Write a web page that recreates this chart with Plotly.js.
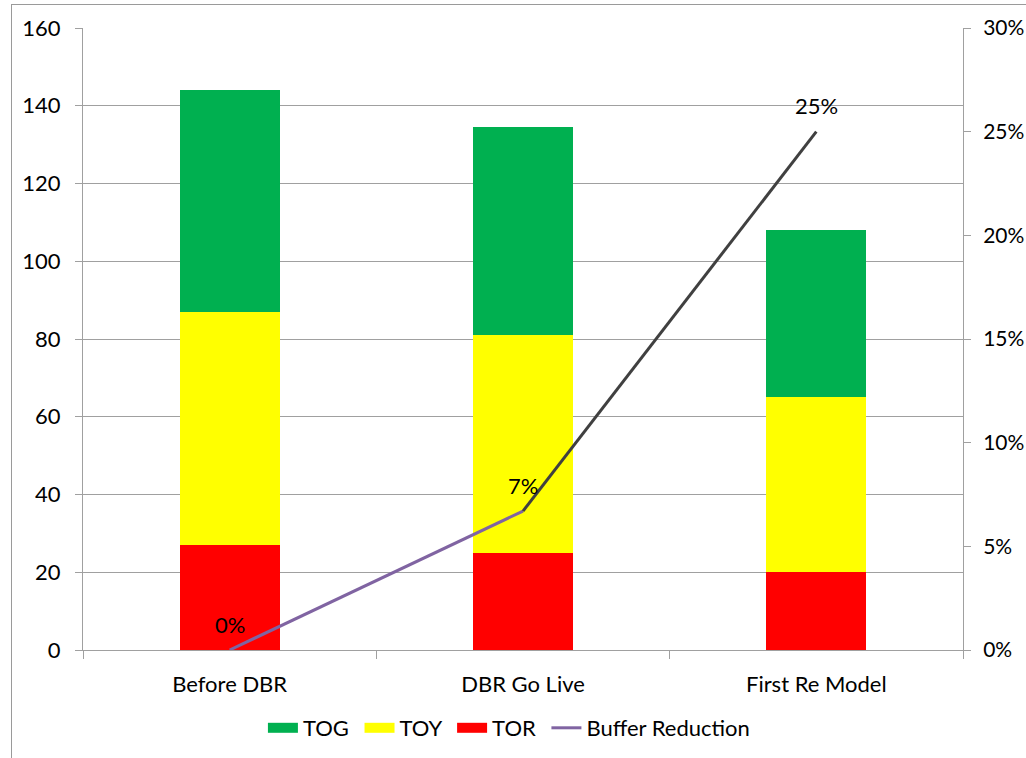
<!DOCTYPE html>
<html>
<head>
<meta charset="utf-8">
<script src="https://cdn.plot.ly/plotly-3.0.1.min.js"></script>
<style>
  html, body { margin: 0; padding: 0; background: #fff; overflow: hidden; }
  #frame { position: absolute; left: 11px; top: 4px; width: 1100px; height: 900px; border: 1px solid #9a9a9a; }
  #chart { position: absolute; left: 0; top: 0; width: 1026px; height: 758px; }
</style>
</head>
<body>
<div id="frame"></div>
<div id="chart"></div>
<script>
const categories = ["Before DBR", "DBR Go Live", "First Re Model"];
const tor = [27, 25, 20];
const toy = [60, 56, 45];
const tog = [57, 53.5, 43];
const bufferReduction = [0, 0.067, 0.25];

const font = "Lato, 'Open Sans', sans-serif";
const colors = { TOG: "#00b050", TOY: "#ffff00", TOR: "#ff0000" };

const traces = [
  { type: "bar", name: "TOR", x: categories, y: tor, marker: { color: colors.TOR }, showlegend: false },
  { type: "bar", name: "TOY", x: categories, y: toy, marker: { color: colors.TOY }, showlegend: false },
  { type: "bar", name: "TOG", x: categories, y: tog, marker: { color: colors.TOG }, showlegend: false },
  { type: "scatter", mode: "lines", name: "Buffer Reduction", x: categories.slice(0, 2), y: bufferReduction.slice(0, 2),
    yaxis: "y2", line: { color: "#8064a2", width: 3 }, showlegend: false },
  { type: "scatter", mode: "lines", name: "Buffer Reduction", x: categories.slice(1), y: bufferReduction.slice(1),
    yaxis: "y2", line: { color: "#404040", width: 3 }, showlegend: false },
  // legend entries (wide rectangular swatches like the original)
  { type: "scatter", mode: "lines", name: "TOG\u00a0", x: [null], y: [null], line: { color: colors.TOG, width: 13 }, legendrank: 1 },
  { type: "scatter", mode: "lines", name: "TOY\u00a0", x: [null], y: [null], line: { color: colors.TOY, width: 13 }, legendrank: 2 },
  { type: "scatter", mode: "lines", name: "TOR\u00a0", x: [null], y: [null], line: { color: colors.TOR, width: 13 }, legendrank: 3 },
  { type: "scatter", mode: "lines", name: "Buffer Reduction", x: [null], y: [null], line: { color: "#8064a2", width: 3 }, legendrank: 4 }
];

const annotations = categories.map((c, i) => ({
  x: c, y: bufferReduction[i], xref: "x", yref: "y2",
  text: Math.round(bufferReduction[i] * 100) + "%",
  showarrow: false, yshift: 26,
  font: { family: font, size: 22, color: "#000" }
}));

const layout = {
  width: 1026, height: 758,
  paper_bgcolor: "rgba(0,0,0,0)", plot_bgcolor: "rgba(0,0,0,0)",
  margin: { l: 83, r: 63, t: 28, b: 108, autoexpand: false },
  barmode: "stack",
  bargap: 0.66,
  font: { family: font, size: 22, color: "#000" },
  annotations: annotations,
  xaxis: {
    type: "category", showline: true, linecolor: "#a0a0a0", linewidth: 1,
    ticks: "outside", tickson: "boundaries", ticklen: 8, tickcolor: "#a0a0a0",
    showgrid: false, automargin: false, ticklabelstandoff: 15,
    tickfont: { family: font, size: 22, color: "#000" }
  },
  yaxis: {
    range: [0, 160], dtick: 20, showline: true, linecolor: "#a0a0a0", linewidth: 1,
    ticks: "outside", ticklen: 7, tickcolor: "#a0a0a0", automargin: false,
    gridcolor: "#a0a0a0", gridwidth: 1, zeroline: false,
    tickfont: { family: font, size: 22, color: "#000" }, ticklabelstandoff: 10
  },
  yaxis2: {
    overlaying: "y", side: "right", range: [0, 0.30], dtick: 0.05, tickformat: ".0%",
    showline: true, linecolor: "#a0a0a0", linewidth: 1, automargin: false,
    ticks: "outside", ticklen: 7, tickcolor: "#a0a0a0",
    showgrid: false, zeroline: false,
    tickfont: { family: font, size: 21, color: "#000" }, ticklabelstandoff: 8
  },
  legend: {
    orientation: "h", x: 0.484, xanchor: "center", y: -0.1254, yanchor: "middle",
    traceorder: "normal",
    font: { family: font, size: 22, color: "#000" }, itemwidth: 30, tracegroupgap: 0
  },
  showlegend: true
};

Plotly.newPlot("chart", traces, layout, { displayModeBar: false, staticPlot: true });
</script>
</body>
</html>
